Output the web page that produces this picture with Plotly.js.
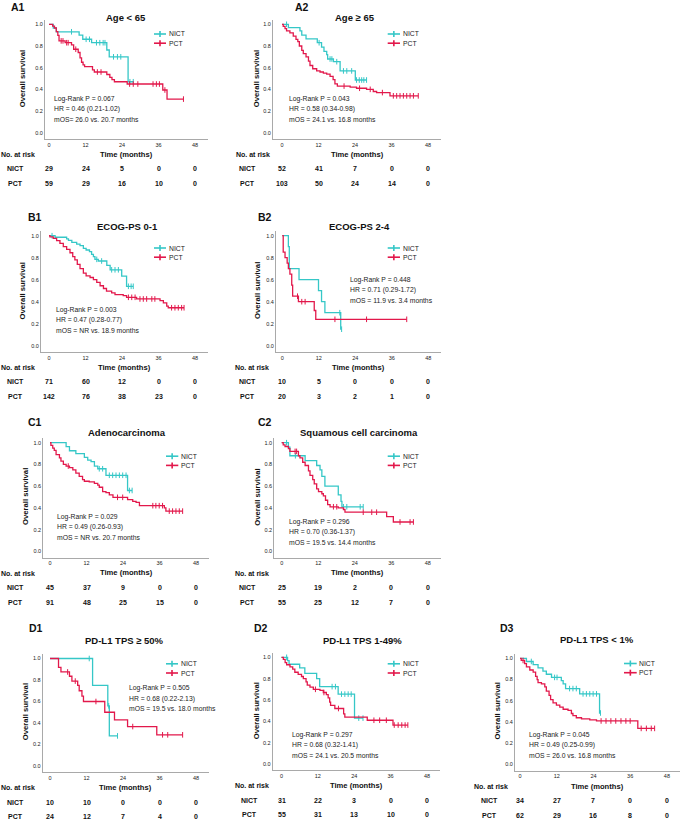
<!DOCTYPE html>
<html><head><meta charset="utf-8">
<script src="https://cdn.plot.ly/plotly-3.0.1.min.js"></script>
<style>html,body{margin:0;padding:0;background:#fff}#chart{width:681px;height:822px}</style>
</head><body><div id="chart"></div>
<script>
// ---------------- DATA ----------------
const panelLabels = ['A1','A2','B1','B2','C1','C2','D1','D2','D3'];
const panelTitles = ['Age < 65','Age \u2265 65','ECOG-PS 0-1','ECOG-PS 2-4','Adenocarcinoma','Squamous cell carcinoma','PD-L1 TPS \u2265 50%','PD-L1 TPS 1-49%','PD-L1 TPS < 1%'];
const groupNames = ['NICT','PCT'];
const xTicks = [0,12,24,36,48];
const yTicks = [0,0.2,0.4,0.6,0.8,1.0];
const logRankText = ['Log-Rank P = 0.067','Log-Rank P = 0.043','Log-Rank P = 0.003','Log-Rank P = 0.448','Log-Rank P = 0.029','Log-Rank P = 0.296','Log-Rank P = 0.505','Log-Rank P = 0.297','Log-Rank P = 0.045'];
const hrText = ['HR = 0.46 (0.21-1.02)','HR = 0.58 (0.34-0.98)','HR = 0.47 (0.28-0.77)','HR = 0.71 (0.29-1.72)','HR = 0.49 (0.26-0.93)','HR = 0.70 (0.36-1.37)','HR = 0.68 (0.22-2.13)','HR = 0.68 (0.32-1.41)','HR = 0.49 (0.25-0.99)'];
const mosText = ['mOS= 26.0 vs. 20.7 months','mOS = 24.1 vs. 16.8 months','mOS = NR vs. 18.9 months','mOS = 11.9 vs. 3.4 months','mOS = NR vs. 20.7 months','mOS = 19.5 vs. 14.4 months','mOS = 19.5 vs. 18.0 months','mOS = 24.1 vs. 20.5 months','mOS = 26.0 vs. 16.8 months'];

const riskNICT = [[29,24,5,0,0],[52,41,7,0,0],[71,60,12,0,0],[10,5,0,0,0],[45,37,9,0,0],[25,19,2,0,0],[10,10,0,0,0],[31,22,3,0,0],[34,27,7,0,0]];
const riskPCT  = [[59,29,16,10,0],[103,50,24,14,0],[142,76,38,23,0],[20,3,2,1,0],[91,48,25,15,0],[55,25,12,7,0],[24,12,7,4,0],[55,31,13,10,0],[62,29,16,8,0]];

// KM curves: event times (T), survival after event (S), censor times (C)
const a1NictT = [1.4,2.4,9.9,11.1,14.0,19.0,19.8,26.0];
const a1NictS = [0.966,0.931,0.90,0.862,0.83,0.763,0.70,0.47];
const a1NictC = [7.4,12.2,13.3,15.6,16.7,17.8,18.4,21.2,22.5,23.6,26.6,27.7];
const a1PctT = [1.2,1.8,2.4,2.9,3.3,5.3,7.4,8.1,9.6,10.2,10.7,11.2,11.7,14.3,14.9,19.0,20.0,20.7,21.5,25.7,37.4,38.8];
const a1PctS = [0.983,0.966,0.932,0.898,0.847,0.830,0.81,0.77,0.74,0.69,0.65,0.625,0.61,0.58,0.56,0.537,0.51,0.49,0.47,0.449,0.394,0.31];
const a1PctC = [4.0,4.6,5.8,6.3,8.8,15.9,17.1,26.5,27.7,29.2,34.2,35.3,36.3,38.1,44.2];

const a2NictT = [2.1,5.9,6.5,7.9,11.6,13.0,13.8,14.7,15.0,16.9,19.1,24.1];
const a2NictS = [0.97,0.94,0.90,0.865,0.83,0.79,0.75,0.72,0.68,0.655,0.57,0.486];
const a2NictC = [1.5,12.2,15.8,16.4,18.0,20.2,21.3,22.9,24.5,25.4,26.2,26.9,27.8];
const a2PctT = [0.4,1.0,1.5,2.6,3.7,4.6,5.2,5.7,6.5,7.0,7.9,8.7,9.2,10.1,11.4,12.5,13.6,14.7,15.8,16.8,17.4,18.2,22.4,24.5,27.8,30.0,31.1,35.5];
const a2PctS = [0.98,0.96,0.94,0.92,0.89,0.86,0.84,0.80,0.76,0.73,0.70,0.66,0.62,0.59,0.57,0.56,0.55,0.54,0.52,0.49,0.45,0.43,0.42,0.41,0.40,0.38,0.37,0.34];
const a2PctC = [20.4,25.5,29.0,33.0,36.6,37.7,38.8,39.9,41.0,42.1,43.2,44.8];

const b1NictT = [2.0,5.8,6.4,7.5,9.1,10.2,11.3,12.2,13.3,14.0,14.6,15.1,16.2,19.0,20.1,23.9,25.5];
const b1NictS = [0.986,0.972,0.958,0.94,0.924,0.91,0.885,0.87,0.855,0.83,0.81,0.785,0.77,0.73,0.69,0.633,0.54];
const b1NictC = [1.0,15.7,17.3,20.6,21.7,22.8,26.1,27.0,27.7];
const b1PctT = [0.3,1.4,2.5,3.6,4.7,5.8,6.9,7.8,8.5,9.3,10.2,11.3,12.2,13.5,14.6,15.7,16.8,17.9,18.9,20.6,21.7,24.4,25.5,28.8,36.5,37.6,38.7,39.2];
const b1PctS = [0.99,0.975,0.955,0.93,0.90,0.875,0.845,0.81,0.78,0.74,0.70,0.66,0.635,0.62,0.60,0.575,0.545,0.52,0.497,0.48,0.465,0.455,0.44,0.425,0.41,0.39,0.36,0.345];
const b1PctC = [26.1,27.2,28.3,29.9,31.0,32.1,33.8,34.8,40.3,41.4,42.5,43.6,44.4];

const b2NictT = [2.0,2.3,5.5,11.9,12.9,14.0,19.2];
const b2NictS = [0.9,0.7,0.6,0.5,0.4,0.3,0.15];
const b2NictC = [18.9,19.5];
const b2PctT = [0.3,0.9,1.6,2.0,2.5,3.1,3.4,5.3,10.5,11.0];
const b2PctS = [0.85,0.80,0.75,0.70,0.65,0.55,0.45,0.40,0.32,0.24];
const b2PctC = [5.0,6.4,7.5,17.3,27.7,40.9];

const c1NictT = [5.3,6.4,8.5,11.3,12.4,13.5,14.6,15.7,18.4,25.5];
const c1NictS = [0.963,0.926,0.90,0.865,0.84,0.825,0.785,0.76,0.70,0.56];
const c1NictC = [16.2,17.3,19.5,20.6,21.7,22.8,23.9,25.0,26.1,27.0];
const c1PctT = [0.3,0.9,1.4,2.0,3.1,3.6,4.4,5.3,6.4,7.5,8.5,9.6,10.7,11.3,12.9,14.6,15.7,16.2,17.3,18.4,19.5,20.7,25.5,27.2,28.3,29.4,37.6,38.1];
const c1PctS = [0.975,0.95,0.93,0.89,0.86,0.83,0.80,0.785,0.77,0.75,0.72,0.69,0.66,0.645,0.64,0.625,0.61,0.59,0.55,0.54,0.52,0.497,0.475,0.46,0.45,0.42,0.40,0.37];
const c1PctC = [6.0,22.2,23.9,33.8,34.8,35.9,37.0,39.2,40.3,41.4,42.5,43.6];

const c2NictT = [2.2,2.7,7.7,11.5,12.6,13.2,14.2,18.6,19.5,19.8];
const c2NictS = [0.96,0.88,0.835,0.79,0.75,0.69,0.60,0.52,0.46,0.41];
const c2NictC = [1.6,4.5,20.3,21.4,25.8,26.8];
const c2PctT = [0.5,1.1,2.2,2.7,5.5,6.0,6.9,7.7,8.8,9.3,10.2,10.7,11.5,12.1,13.2,13.7,14.4,15.1,15.9,18.6,20.3,20.8,34.5,36.7];
const c2PctS = [0.98,0.965,0.945,0.92,0.88,0.86,0.82,0.79,0.74,0.70,0.66,0.62,0.575,0.55,0.53,0.51,0.47,0.43,0.41,0.40,0.385,0.36,0.32,0.27];
const c2PctC = [4.4,4.9,17.0,18.1,26.8,29.6,31.2,38.9,42.2,43.3];

const d1NictT = [14.0,19.0,19.5];
const d1NictS = [0.75,0.56,0.28];
const d1NictC = [12.9,19.3,22.2];
const d1PctT = [2.8,3.6,6.4,7.2,9.1,9.6,10.5,11.0,18.0,21.2,25.5,35.1];
const d1PctS = [0.917,0.875,0.835,0.79,0.75,0.70,0.65,0.60,0.50,0.43,0.367,0.29];
const d1PctC = [5.8,8.3,15.1,27.2,37.0,38.7,43.6];

const d2NictT = [2.0,2.5,6.0,7.7,11.6,12.6,18.7,24.1];
const d2NictS = [0.968,0.935,0.90,0.85,0.80,0.725,0.655,0.43];
const d2NictC = [1.7,16.7,17.8,19.8,20.9,22.0,23.0,25.5,26.9];
const d2PctT = [0.6,1.2,1.7,2.8,3.7,4.4,5.5,6.6,7.2,8.1,8.5,9.4,10.5,12.7,13.8,14.8,15.4,15.9,16.2,17.6,20.5,20.9,28.3,36.8];
const d2PctS = [0.98,0.95,0.93,0.91,0.89,0.86,0.84,0.82,0.80,0.77,0.74,0.72,0.70,0.69,0.67,0.65,0.62,0.58,0.55,0.52,0.47,0.44,0.41,0.365];
const d2PctC = [11.2,14.0,18.8,30.5,32.4,34.6,37.2,38.5,39.7,40.8,41.7];

const d3NictT = [2.1,4.3,5.9,7.5,8.6,10.3,13.5,14.1,14.9,19.5,26.0];
const d3NictS = [0.97,0.94,0.91,0.88,0.85,0.82,0.79,0.76,0.715,0.665,0.485];
const d3NictC = [3.7,11.3,12.1,16.2,17.3,18.4,20.6,21.7,22.8,23.9,25.0,26.3];
const d3PctT = [0.4,1.5,2.1,3.2,4.3,5.1,5.6,5.9,7.0,8.1,8.6,9.5,10.0,10.8,11.9,13.0,14.1,15.7,16.8,17.3,18.4,20.1,22.8,25.0,38.5];
const d3PctS = [0.98,0.95,0.92,0.89,0.87,0.83,0.80,0.77,0.76,0.73,0.69,0.65,0.61,0.58,0.56,0.54,0.52,0.51,0.48,0.46,0.44,0.43,0.42,0.41,0.34];
const d3PctC = [1.0,26.5,28.1,29.7,31.3,33.0,34.6,36.0,39.6,41.3,42.9,44.0];

// ---------------- LAYOUT GEOMETRY (pixels) ----------------
const W = 681, H = 822;
const GEO = [
 {p0:49,   sx:3.042, axL:45,    q1:24.3,  q0:132.7, tx:126,   ty:17.3,  lx:10,    ly:6.7,   yx:22.7,  stX:53.3,  stY:99,    lg:[154,166,34],     nar:0,   grp:15},
 {p0:282,  sx:3.042, axL:273,   q1:24.3,  q0:132.7, tx:354.5, ty:17.3,  lx:294,   ly:6.7,   yx:256.7, stX:288.3, stY:99,    lg:[387.7,400,34],   nar:235, grp:247.5},
 {p0:49,   sx:3.042, axL:41,    q1:235.7, q0:345.7, tx:127.5, ty:226.7, lx:26.7,  ly:216.7, yx:22.7,  stX:55,    stY:310,   lg:[154,166,248],    nar:0,   grp:15},
 {p0:282.3,sx:3.042, axL:276,   q1:235.7, q0:345.7, tx:359.7, ty:226.7, lx:256.7, ly:216.7, yx:257.3, stX:349.3, stY:280,   lg:[387.7,400,248],  nar:234, grp:247},
 {p0:50,   sx:3.042, axL:43.3,  q1:442.7, q0:551.3, tx:127.2, ty:432.7, lx:26.7,  ly:422.3, yx:25,    stX:55.7,  stY:516.7, lg:[166,178.3,456.2],nar:0,   grp:15},
 {p0:281.7,sx:3.042, axL:274.3, q1:442.7, q0:551.3, tx:359,   ty:432.7, lx:257.3, ly:422.3, yx:256.7, stX:288.3, stY:521.7, lg:[387.7,400,456.2],nar:234, grp:247},
 {p0:50,   sx:3.042, axL:42.7,  q1:658.5, q0:766,   tx:124.7, ty:640,   lx:27.7,  ly:628.3, yx:25,    stX:128.3, stY:688.3, lg:[166,178,663.8],  nar:0,   grp:15},
 {p0:281.5,sx:3.03,  axL:272.7, q1:657.3, q0:764,   tx:362,   ty:640,   lx:253.3, ly:628.3, yx:256.7, stX:291,   stY:735,   lg:[387.7,400,663.8],nar:234, grp:249.5},
 {p0:520,  sx:3.06,  axL:515,   q1:658.3, q0:764.5, tx:597.3, ty:639.3, lx:499.3, ly:628.3, yx:497,   stX:528.3, stY:735,   lg:[624,636.7,663.5],nar:473, grp:489}
];
const LEG_GAP = 9.2;
const KM = [
 [[a1NictT,a1NictS,a1NictC],[a1PctT,a1PctS,a1PctC]],
 [[a2NictT,a2NictS,a2NictC],[a2PctT,a2PctS,a2PctC]],
 [[b1NictT,b1NictS,b1NictC],[b1PctT,b1PctS,b1PctC]],
 [[b2NictT,b2NictS,b2NictC],[b2PctT,b2PctS,b2PctC]],
 [[c1NictT,c1NictS,c1NictC],[c1PctT,c1PctS,c1PctC]],
 [[c2NictT,c2NictS,c2NictC],[c2PctT,c2PctS,c2PctC]],
 [[d1NictT,d1NictS,d1NictC],[d1PctT,d1PctS,d1PctC]],
 [[d2NictT,d2NictS,d2NictC],[d2PctT,d2PctS,d2PctC]],
 [[d3NictT,d3NictS,d3NictC],[d3PctT,d3PctS,d3PctC]]
];
const COLORS = ['#35c7c7','#e2184b'];
const FONT = 'Arial, "Liberation Sans", sans-serif';
const TXT = '#111';
const XMAX = 52.3;

const X = px => px / W;
const Y = py => 1 - py / H;

function buildKM(T, S, C) {
  const x = [0], y = [1];
  for (let i = 0; i < T.length; i++) { x.push(T[i]); y.push(S[i]); }
  const lastT = T.length ? T[T.length-1] : 0;
  const lastS = S.length ? S[S.length-1] : 1;
  const lastC = C.length ? C[C.length-1] : 0;
  if (lastC > lastT) { x.push(lastC); y.push(lastS); }
  const cy = C.map(c => { let s = 1; for (let i = 0; i < T.length; i++) if (T[i] <= c) s = S[i]; return s; });
  return {x, y, cx: C, cy};
}

const traces = [];
const layout = {
  width: W, height: H, margin: {l:0, r:0, t:0, b:0},
  paper_bgcolor: '#ffffff', plot_bgcolor: 'rgba(0,0,0,0)',
  showlegend: false, font: {family: FONT, color: TXT},
  annotations: [], shapes: []
};

function ann(xp, yp, text, size, extra) {
  layout.annotations.push(Object.assign({
    xref: 'paper', yref: 'paper', x: X(xp), y: Y(yp), text: text, showarrow: false,
    font: {family: FONT, size: size, color: TXT}, xanchor: 'center', yanchor: 'middle', borderpad: 0
  }, extra || {}));
}

GEO.forEach((g, i) => {
  const n = i + 1;
  const xa = n === 1 ? 'x' : 'x' + n, ya = n === 1 ? 'y' : 'y' + n;
  const xk = n === 1 ? 'xaxis' : 'xaxis' + n, yk = n === 1 ? 'yaxis' : 'yaxis' + n;
  const xmin = (g.axL - g.p0) / g.sx;
  const right = g.p0 + XMAX * g.sx;
  const h = g.q0 - g.q1;
  const topPx = g.q1 - 0.04 * h, botPx = g.q0 + 0.06 * h;
  layout[xk] = {
    domain: [X(g.axL), X(right)], range: [xmin, XMAX], anchor: ya,
    showline: true, linecolor: '#a9a9a9', linewidth: 1, mirror: false,
    showgrid: false, zeroline: false, ticks: '', tickvals: xTicks, ticktext: xTicks.map(String),
    tickfont: {family: FONT, size: 5.5, color: '#222'}, fixedrange: true
  };
  layout[yk] = {
    domain: [Y(botPx), Y(topPx)], range: [-0.06, 1.04], anchor: xa,
    showline: true, linecolor: '#a9a9a9', linewidth: 1,
    showgrid: false, zeroline: false, ticks: '', tickvals: yTicks, tickformat: '.1f',
    tickfont: {family: FONT, size: 5.5, color: '#222'}, fixedrange: true
  };
  // curves
  KM[i].forEach((grp, k) => {
    const km = buildKM(grp[0], grp[1], grp[2]);
    traces.push({x: km.x, y: km.y, xaxis: xa, yaxis: ya, mode: 'lines', type: 'scatter',
      line: {shape: 'hv', color: COLORS[k], width: 1.3}, hoverinfo: 'skip', showlegend: false});
    traces.push({x: km.cx, y: km.cy, xaxis: xa, yaxis: ya, mode: 'markers', type: 'scatter',
      marker: {symbol: 'line-ns-open', size: 4, color: COLORS[k], line: {color: COLORS[k], width: 1}},
      hoverinfo: 'skip', showlegend: false});
  });
  // panel label and title
  ann(g.lx, g.ly, '<b>' + panelLabels[i] + '</b>', 10.5, {xanchor: 'left'});
  ann(g.tx, g.ty, '<b>' + panelTitles[i] + '</b>', 9.5);
  // y title
  ann(g.yx, (g.q0 + g.q1) / 2, '<b>Overall survival</b>', 7.7, {textangle: -90});
  // x title
  ann((g.axL + right) / 2, g.q0 + 21.5, '<b>Time (months)</b>', 7.6);
  // stats
  [logRankText[i], hrText[i], mosText[i]].forEach((t, j) => ann(g.stX, g.stY + j * 10.3, t, 6.8, {xanchor: 'left', font: {family: FONT, size: 6.8, color: '#222'}}));
  // legend
  [0, 1].forEach(k => {
    const ly = g.lg[2] + k * LEG_GAP;
    const mid = (g.lg[0] + g.lg[1]) / 2;
    layout.shapes.push({type: 'line', xref: 'paper', yref: 'paper', x0: X(g.lg[0]), x1: X(g.lg[1]), y0: Y(ly), y1: Y(ly), line: {color: COLORS[k], width: 1.6}});
    layout.shapes.push({type: 'line', xref: 'paper', yref: 'paper', x0: X(mid), x1: X(mid), y0: Y(ly - 3), y1: Y(ly + 3), line: {color: COLORS[k], width: 1.6}});
    ann(g.lg[1] + 1.5, ly, groupNames[k], 6.8, {xanchor: 'left', font: {family: FONT, size: 6.8, color: '#222'}});
  });
  // risk table
  ann(g.nar, g.q0 + 21.8, '<b>No. at risk</b>', 7, {xanchor: 'left'});
  [riskNICT[i], riskPCT[i]].forEach((row, k) => {
    const ry = g.q0 + 36.2 + k * 14.6;
    ann(g.grp, ry, '<b>' + groupNames[k] + '</b>', 7);
    row.forEach((v, j) => {
      layout.annotations.push({xref: xa, yref: 'paper', x: xTicks[j], y: Y(ry), text: '<b>' + v + '</b>',
        showarrow: false, xanchor: 'center', yanchor: 'middle', font: {family: FONT, size: 7, color: TXT}});
    });
  });
});

Plotly.newPlot('chart', traces, layout, {staticPlot: true, displayModeBar: false});
</script>
</body></html>
